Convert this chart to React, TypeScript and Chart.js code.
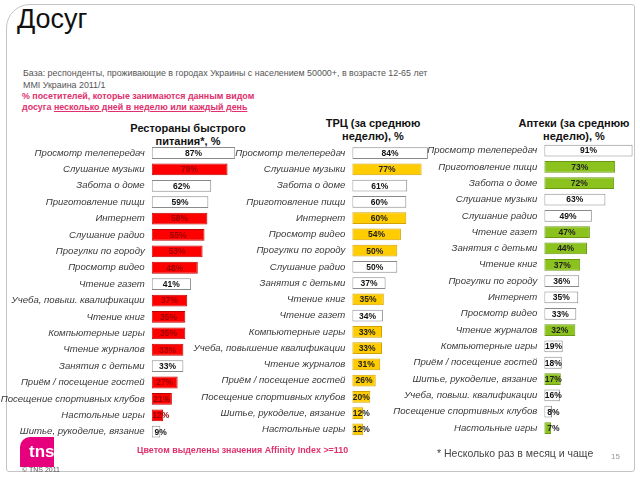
import React, { useEffect, useRef } from "react";
import { Chart, registerables } from "chart.js";
Chart.register(...registerables);

// ---------- DATA ----------
const fastFoodLabels = [
  "Просмотр телепередач",
  "Слушание музыки",
  "Забота о доме",
  "Приготовление пищи",
  "Интернет",
  "Слушание радио",
  "Прогулки по городу",
  "Просмотр видео",
  "Чтение газет",
  "Учеба, повыш. квалификации",
  "Чтение книг",
  "Компьютерные игры",
  "Чтение журналов",
  "Занятия с детьми",
  "Приём / посещение гостей",
  "Посещение спортивных клубов",
  "Настольные игры",
  "Шитье, рукоделие, вязание",
];
const fastFoodValues = [87, 79, 62, 59, 58, 55, 53, 48, 41, 37, 35, 35, 33, 33, 27, 21, 12, 9];
const fastFoodHighlight = [0, 1, 0, 0, 1, 1, 1, 1, 0, 1, 1, 1, 1, 0, 1, 1, 1, 0];

const mallLabels = [
  "Просмотр телепередач",
  "Слушание музыки",
  "Забота о доме",
  "Приготовление пищи",
  "Интернет",
  "Просмотр видео",
  "Прогулки по городу",
  "Слушание радио",
  "Занятия с детьми",
  "Чтение книг",
  "Чтение газет",
  "Компьютерные игры",
  "Учеба, повышение квалификации",
  "Чтение журналов",
  "Приём / посещение гостей",
  "Посещение спортивных клубов",
  "Шитье, рукоделие, вязание",
  "Настольные игры",
];
const mallValues = [84, 77, 61, 60, 60, 54, 50, 50, 37, 35, 34, 33, 33, 31, 26, 20, 12, 12];
const mallHighlight = [0, 1, 0, 0, 1, 1, 1, 0, 0, 1, 0, 1, 1, 1, 1, 1, 1, 1];

const pharmacyLabels = [
  "Просмотр телепередач",
  "Приготовление пищи",
  "Забота о доме",
  "Слушание музыки",
  "Слушание радио",
  "Чтение газет",
  "Занятия с детьми",
  "Чтение книг",
  "Прогулки по городу",
  "Интернет",
  "Просмотр видео",
  "Чтение журналов",
  "Компьютерные игры",
  "Приём / посещение гостей",
  "Шитье, рукоделие, вязание",
  "Учеба, повыш. квалификации",
  "Посещение спортивных клубов",
  "Настольные игры",
];
const pharmacyValues = [91, 73, 72, 63, 49, 47, 44, 37, 36, 35, 33, 32, 19, 18, 17, 16, 8, 7];
const pharmacyHighlight = [0, 1, 1, 0, 0, 1, 1, 1, 0, 0, 0, 1, 0, 0, 1, 0, 0, 1];

// ---------- CHART ----------
const W = 660;
const H = 480;
const FONT = "'Liberation Sans', Arial, sans-serif";

const valuePlugin = {
  id: "valueLabels",
  afterDatasetsDraw(chart: any, _args: any, opts: any) {
    const ctx = chart.ctx;
    const meta = chart.getDatasetMeta(0);
    const xs = chart.scales.x;
    const data = chart.data.datasets[0].data as number[];
    const base = xs.getPixelForValue(0);
    ctx.save();
    ctx.font = `bold 8.5px ${FONT}`;
    ctx.textAlign = "center";
    ctx.textBaseline = "middle";
    meta.data.forEach((bar: any, i: number) => {
      const end = xs.getPixelForValue(data[i]);
      const cx = Math.max((base + end) / 2, base + 9);
      ctx.fillStyle = opts.colors[i];
      ctx.fillText(data[i] + "%", cx, bar.y + 0.5);
    });
    ctx.restore();
  },
};

type PanelProps = {
  labels: string[];
  values: number[];
  highlight: number[];
  fill: string;
  border: string;
  textOn: string;
  x0: number;
  pxPer: number;
  top: number;
  bottom: number;
};

function Panel(p: PanelProps) {
  const ref = useRef<HTMLCanvasElement>(null);
  useEffect(() => {
    const chart = new Chart(ref.current!, {
      type: "bar",
      data: {
        labels: p.labels,
        datasets: [
          {
            data: p.values,
            backgroundColor: p.values.map((_, i) => (p.highlight[i] ? p.fill : "#ffffff")),
            borderColor: p.values.map((_, i) => (p.highlight[i] ? p.border : "#8a8a8a")),
            borderWidth: 1,
            borderSkipped: false,
            barPercentage: 0.72,
            categoryPercentage: 1,
          },
        ],
      },
      options: {
        indexAxis: "y",
        responsive: false,
        animation: false,
        layout: {
          padding: {
            left: 0,
            right: W - p.x0 - p.pxPer * 100,
            top: p.top,
            bottom: H - p.bottom,
          },
        },
        plugins: {
          legend: { display: false },
          tooltip: { enabled: false },
          valueLabels: {
            colors: p.values.map((_, i) => (p.highlight[i] ? p.textOn : "#111111")),
          },
        } as any,
        scales: {
          x: { display: false, min: 0, max: 100 },
          y: {
            grid: { display: false, drawTicks: false },
            border: { display: false },
            ticks: {
              autoSkip: false,
              padding: 7,
              color: "#3a3a3a",
              font: { family: FONT, size: 9.6, style: "italic" },
            },
            afterFit: (s: any) => {
              s.width = p.x0;
            },
          },
        },
      },
      plugins: [valuePlugin],
    });
    return () => chart.destroy();
  }, []);
  return (
    <canvas
      ref={ref}
      width={W}
      height={H}
      style={{ position: "absolute", left: 0, top: 0, width: W, height: H }}
    />
  );
}

const abs = (left: number, top: number, extra: React.CSSProperties = {}): React.CSSProperties => ({
  position: "absolute",
  left,
  top,
  whiteSpace: "nowrap",
  lineHeight: 1,
  ...extra,
});

export default function App() {
  return (
    <div
      style={{
        position: "fixed",
        left: 0,
        top: 0,
        width: 640,
        height: 480,
        overflow: "hidden",
        background: "#ffffff",
        fontFamily: FONT,
      }}
    >
      {/* frame */}
      <div
        style={{
          position: "absolute",
          left: 6,
          top: 4,
          width: 629,
          height: 468,
          border: "1px solid #c4c4c4",
          borderRadius: "24px 3px 3px 3px",
          boxSizing: "border-box",
        }}
      />
      <div style={abs(17, 6, { fontSize: 27, color: "#111" })}>Досуг</div>
      <div style={abs(23, 67, { fontSize: 8.9, color: "#555", lineHeight: "12px" })}>
        База: респонденты, проживающие в городах Украины с населением 50000+, в возрасте 12-65 лет
        <br />
        MMI Украина 2011/1
      </div>
      <div style={abs(22, 91, { fontSize: 8.9, color: "#e0306e", fontWeight: "bold", lineHeight: "11px" })}>
        % посетителей, которые занимаются данным видом
        <br />
        досуга <span style={{ textDecoration: "underline" }}>несколько дней в неделю или каждый день</span>
      </div>

      {/* panel titles */}
      <div style={abs(88, 122, { width: 200, textAlign: "center", fontSize: 11, fontWeight: "bold", color: "#111", lineHeight: "13px" })}>
        Рестораны быстрого
        <br />
        питания*, %
      </div>
      <div style={abs(273, 117, { width: 200, textAlign: "center", fontSize: 11, fontWeight: "bold", color: "#111", lineHeight: "13px" })}>
        ТРЦ (за среднюю
        <br />
        неделю), %
      </div>
      <div style={abs(474, 117, { width: 200, textAlign: "center", fontSize: 11, fontWeight: "bold", color: "#111", lineHeight: "13px" })}>
        Аптеки (за среднюю
        <br />
        неделю), %
      </div>

      <Panel
        labels={fastFoodLabels}
        values={fastFoodValues}
        highlight={fastFoodHighlight}
        fill="#ff0000"
        border="#c00000"
        textOn="#9a0000"
        x0={151.7}
        pxPer={0.96}
        top={144.8}
        bottom={439.9}
      />
      <Panel
        labels={mallLabels}
        values={mallValues}
        highlight={mallHighlight}
        fill="#ffcc00"
        border="#d4a200"
        textOn="#222222"
        x0={352.3}
        pxPer={0.9}
        top={145.1}
        bottom={437.5}
      />
      <Panel
        labels={pharmacyLabels}
        values={pharmacyValues}
        highlight={pharmacyHighlight}
        fill="#8cc21e"
        border="#6b9a12"
        textOn="#222222"
        x0={544.3}
        pxPer={0.97}
        top={142.4}
        bottom={436.2}
      />

      {/* logo */}
      <div
        style={{
          position: "absolute",
          left: 20,
          top: 437,
          width: 34,
          height: 30,
          background: "#e6007e",
          borderTopLeftRadius: 10,
        }}
      />
      <div style={abs(29, 443, { fontSize: 17, fontWeight: "bold", color: "#ffffff" })}>tns</div>
      <div style={abs(22, 466, { fontSize: 7, color: "#555" })}>© TNS 2011</div>

      <div style={abs(137, 446, { fontSize: 8.9, fontWeight: "bold", color: "#e0306e" })}>
        Цветом выделены значения Affinity Index &gt;=110
      </div>
      <div style={abs(437, 448, { fontSize: 10.5, color: "#444" })}>* Несколько раз в месяц и чаще</div>
      <div style={abs(611, 453, { fontSize: 8, color: "#999" })}>15</div>
    </div>
  );
}
